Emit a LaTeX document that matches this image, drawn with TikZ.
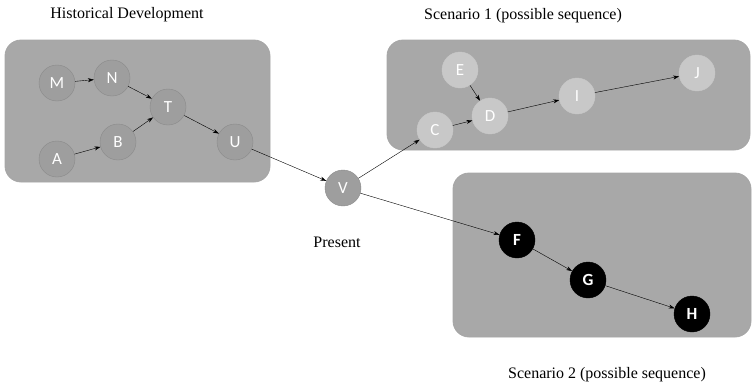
\documentclass[tikz,border=0pt]{standalone}
\usepackage{fontspec}
\setmainfont{Liberation Serif}
\newfontfamily\nodefont{Carlito}
\usepackage{tikz}
\usetikzlibrary{arrows.meta}

\definecolor{boxgray}{RGB}{168,168,168}
\definecolor{pastgray}{RGB}{158,158,158}
\definecolor{pastline}{RGB}{138,138,138}
\definecolor{lightgray}{RGB}{200,200,200}

\begin{document}
\begin{tikzpicture}[x=1pt,y=-1pt,
    % styles
    group box/.style={fill=boxgray,draw=gray!70,rounded corners=16pt,line width=0.8pt},
    past node/.style={circle,minimum size=36pt,inner sep=0pt,fill=pastgray,draw=pastline,
      text=white,font=\nodefont\fontsize{17}{17}\selectfont},
    future node/.style={past node,fill=lightgray,draw=lightgray},
    black node/.style={past node,fill=black,draw=black,font=\nodefont\bfseries\fontsize{17}{17}\selectfont},
    edge/.style={-{Stealth[length=6pt,width=4pt]},thin},
    caption/.style={font=\fontsize{16}{16}\selectfont}]

  \useasboundingbox (0,0) rectangle (752,386);

  % boxes
  \filldraw[group box] (5,40) rectangle (270,182);
  \filldraw[group box] (387,40) rectangle (750,150);
  \filldraw[group box] (453,173) rectangle (751,337);

  % historical development
  \node[past node] (m) at (57,83) {M};
  \node[past node] (n) at (112,78) {N};
  \node[past node] (t) at (168,107) {T};
  \node[past node] (a) at (57,159) {A};
  \node[past node] (b) at (118,142) {B};
  \node[past node] (u) at (235,142) {U};

  % present
  \node[past node] (v) at (343,188) {V};

  % scenario 1
  \node[future node] (e) at (460,70) {E};
  \node[future node] (c) at (435,130) {C};
  \node[future node] (d) at (490,116) {D};
  \node[future node] (i) at (577,96) {I};
  \node[future node] (j) at (697,73) {J};

  % scenario 2
  \node[black node] (f) at (517,240) {F};
  \node[black node] (g) at (588,280) {G};
  \node[black node] (h) at (692,314) {H};

  % edges
  \draw[edge] (m) -- (n);
  \draw[edge] (n) -- (t);
  \draw[edge] (a) -- (b);
  \draw[edge] (b) -- (t);
  \draw[edge] (t) -- (u);
  \draw[edge] (u) -- (v);
  \draw[edge] (v) -- (c);
  \draw[edge] (c) -- (d);
  \draw[edge] (e) -- (d);
  \draw[edge] (d) -- (i);
  \draw[edge] (i) -- (j);
  \draw[edge] (v) -- (f);
  \draw[edge] (f) -- (g);
  \draw[edge] (g) -- (h);

  % text
  \node[caption] (hist) at (127,15) {Historical Development};
  \node[caption] (scen1) at (523,16) {Scenario 1 (possible sequence)};
  \node[caption] (pres) at (337,242) {Present};
  \node[caption] (scen2) at (607,375) {Scenario 2 (possible sequence)};
\end{tikzpicture}
\end{document}
